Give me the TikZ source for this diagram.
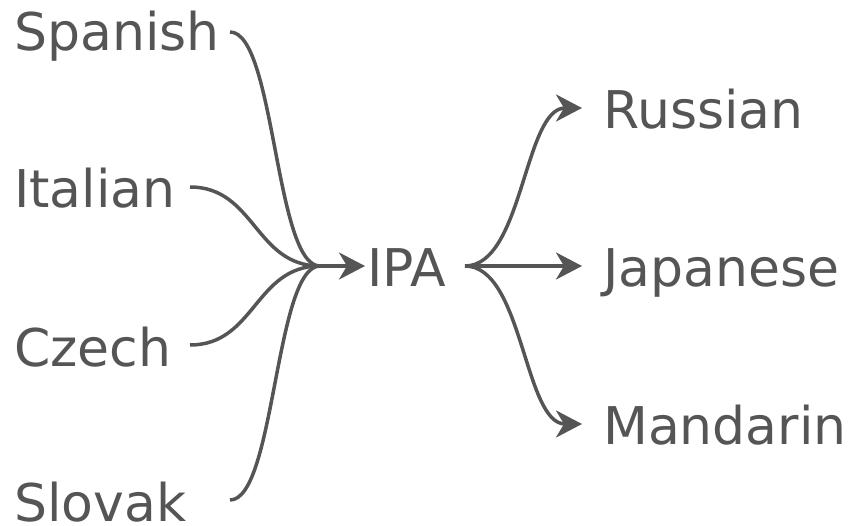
\documentclass[tikz,border=0pt]{standalone}
\usepackage{fontspec}
\setmainfont{DejaVu Sans}
\usetikzlibrary{arrows.meta}
\definecolor{ink}{HTML}{555555}
\tikzset{
  lbl/.style={anchor=base west,inner sep=0pt,text=ink,font=\fontsize{52}{60}\selectfont},
  link/.style={draw=ink,line width=3.5pt},
  arr/.style={link,arrows={-Stealth[length=26pt,width=27pt,inset=8pt]}}}
\begin{document}
\begin{tikzpicture}[x=1pt,y=1pt]
\useasboundingbox (0,0) rectangle (850,525);
% labels (y measured from bottom)
\node[lbl] (spanish) at (14,525-51) {Spanish};
\node[lbl] (italian) at (14,525-208) {Italian};
\node[lbl] (czech) at (14,525-366) {Czech};
\node[lbl] (slovak) at (14,525-521) {Slovak};
\node[lbl] (ipa) at (367,525-287) {IPA};
\node[lbl] (russian) at (603,525-129) {Russian};
\node[lbl] (japanese) at (603,525-287) {Japanese};
\node[lbl] (mandarin) at (603,525-444) {Mandarin};
% connector ends
\coordinate (spo) at (230,525-32);
\coordinate (ito) at (190,525-187);
\coordinate (czo) at (190,525-345);
\coordinate (slo) at (230,525-500);
\coordinate (m) at (320,525-266);
\coordinate (ipain) at (365,525-266);
\coordinate (ipaout) at (465,525-266);
\coordinate (ruin) at (582,525-108);
\coordinate (jain) at (582,525-266);
\coordinate (main) at (582,525-424);
% left fan-in
\draw[link] (spo) .. controls +(45,0) and +(-45,0) .. (m);
\draw[link] (ito) .. controls +(65,0) and +(-65,0) .. (m);
\draw[link] (czo) .. controls +(65,0) and +(-65,0) .. (m);
\draw[link] (slo) .. controls +(45,0) and +(-45,0) .. (m);
\draw[arr] (m) -- (ipain);
% right fan-out
\draw[arr] (ipaout) .. controls +(58,0) and +(-58,0) .. (ruin);
\draw[arr] (ipaout) -- (jain);
\draw[arr] (ipaout) .. controls +(58,0) and +(-58,0) .. (main);
\end{tikzpicture}
\end{document}
